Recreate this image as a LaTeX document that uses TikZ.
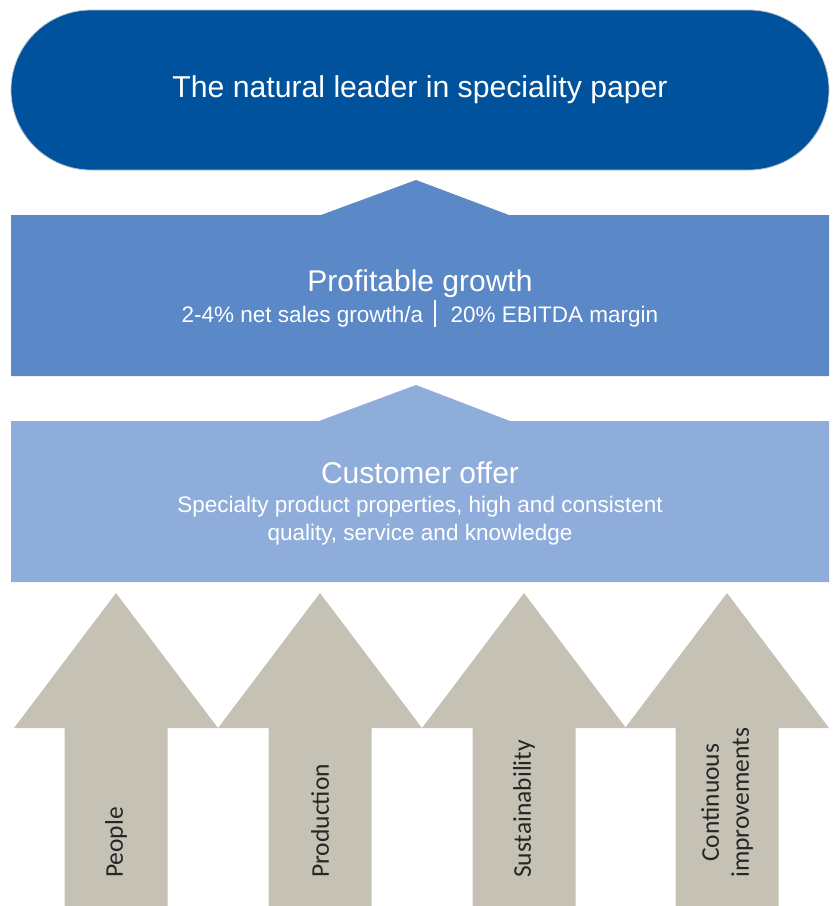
\documentclass[tikz,border=0pt]{standalone}
\usepackage{fontspec}
\setmainfont{Liberation Sans}
\newfontfamily\pillarfont{Carlito}
\definecolor{leaderblue}{RGB}{0,82,156}
\definecolor{growthblue}{RGB}{91,136,198}
\definecolor{offerblue}{RGB}{143,173,219}
\definecolor{pillargrey}{RGB}{198,193,181}
\definecolor{rimgrey}{RGB}{188,194,206}
\definecolor{labeldark}{RGB}{38,38,38}
\tikzset{
  heading/.style={text=white, inner sep=0pt, anchor=base,
    font=\fontsize{30}{36}\selectfont},
  subline/.style={text=white, inner sep=0pt, anchor=base,
    font=\fontsize{22.5}{28}\selectfont},
  pillar/.style={fill=pillargrey, draw=none},
  pillarlabel/.style={text=labeldark, rotate=90, anchor=west, align=center,
    inner sep=0pt, font=\pillarfont\fontsize{25.5}{30}\selectfont}
}
\begin{document}
\begin{tikzpicture}[x=1pt, y=-1pt]
\useasboundingbox (0,0) rectangle (835,906);

% vision at the top
\node[fill=leaderblue, draw=rimgrey, line width=0.8pt, rounded corners=80pt,
      minimum width=818pt, minimum height=160pt, inner sep=0pt,
      text=white, font=\fontsize{30.2}{36}\selectfont]
  (leader) at (420,90) {The natural leader in speciality paper};

% profitable growth tier with its pointer
\fill[growthblue] (11,215) -- (321,215) -- (416,180) -- (509,215) -- (829,215)
  -- (829,376) -- (11,376) -- cycle;
\node[heading] (growth) at (420,291) {Profitable growth};
\node[subline] (growthkpi) at (420,322)
  {2-4\% net sales growth/a\hspace{11pt}\rule[-5pt]{1.6pt}{27pt}\hspace{15pt}20\% EBITDA margin};

% customer offer tier with its pointer
\fill[offerblue] (11,421) -- (319,421) -- (416,385) -- (510,421) -- (829,421)
  -- (829,582) -- (11,582) -- cycle;
\node[heading] (offer) at (420,483) {Customer offer};
\node[subline] (offertext) at (420,512)
  {Specialty product properties, high and consistent};
\node[subline] (offertextcont) at (420,540)
  {quality, service and knowledge};

% four supporting pillars
\foreach \cx/\name in {116/people, 320/production, 524/sustain, 727/improve}{
  \fill[pillar] (\cx-102,728) -- (\cx,593) -- (\cx+102,728) -- (\cx+51.5,728)
    -- (\cx+51.5,906) -- (\cx-51.5,906) -- (\cx-51.5,728) -- cycle;
  \coordinate (\name) at (\cx,878);
}
\node[pillarlabel] (peoplelabel) at (people) {People};
\node[pillarlabel] (productionlabel) at (production) {Production};
\node[pillarlabel] (sustainlabel) at (sustain) {Sustainability};
\node[pillarlabel] (improvelabel) at (improve) {Continuous\\improvements};
\end{tikzpicture}
\end{document}
